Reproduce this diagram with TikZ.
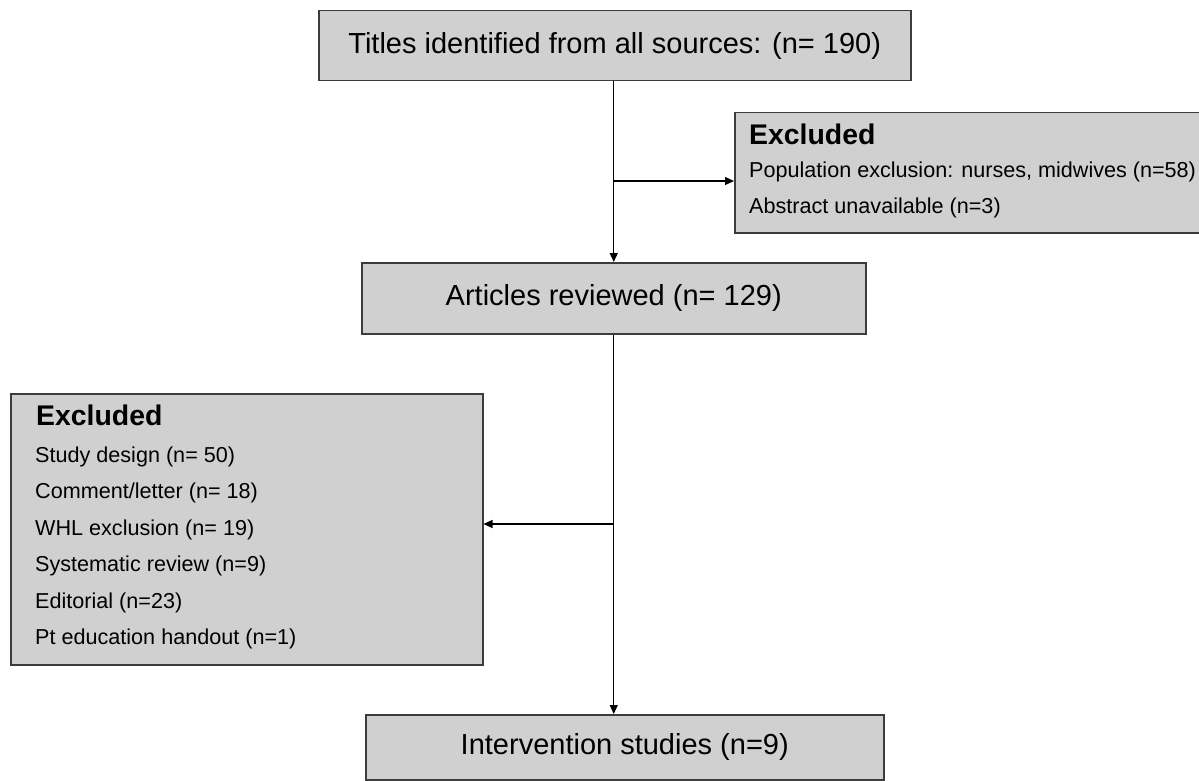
\documentclass[tikz,border=0pt]{standalone}
\usepackage{fontspec}
\setmainfont{Liberation Sans}
\usetikzlibrary{arrows.meta}
\definecolor{boxfill}{RGB}{208,208,208}
\definecolor{boxline}{RGB}{60,60,60}
\begin{document}
\begin{tikzpicture}[x=1pt,y=-1pt,
  box/.style={draw=boxline, line width=1.5pt, fill=boxfill, inner sep=0pt, anchor=north west},
  big/.style={font=\fontsize{29}{34}\selectfont},
  head/.style={font=\fontsize{28.4}{34}\selectfont\bfseries, anchor=base west, inner sep=0pt},
  item/.style={font=\fontsize{21.6}{26}\selectfont, anchor=base west, inner sep=0pt},
  arr/.style={line width=1.2pt, -{Triangle[length=9pt,width=8pt]}}]
\useasboundingbox[fill=white] (0,0) rectangle (1199,781);

% main boxes
\node[box, big, minimum width=592pt, minimum height=70pt] (top) at (318,10) {Titles identified from all sources: (n= 190)};
\node[box, big, minimum width=504pt, minimum height=71pt] (art) at (361,262) {Articles reviewed (n= 129)};
\node[box, big, minimum width=518pt, minimum height=65pt] (bot) at (365,714) {Intervention studies (n=9)};

% right excluded box
\node[box, minimum width=470pt, minimum height=120pt] (exR) at (734,112) {};
\node[head] (exRh) at (749,144) {Excluded};
\node[item] (exR1) at (749,177) {Population exclusion: nurses, midwives (n=58)};
\node[item] (exR2) at (749,213) {Abstract unavailable (n=3)};

% left excluded box
\node[box, minimum width=472pt, minimum height=271pt] (exL) at (10,393) {};
\node[head] (exLh) at (36,425) {Excluded};
\node[item] (exL1) at (35,462) {Study design (n= 50)};
\node[item] (exL2) at (35,498) {Comment/letter (n= 18)};
\node[item] (exL3) at (35,535) {WHL exclusion (n= 19)};
\node[item] (exL4) at (35,571) {Systematic review (n=9)};
\node[item] (exL5) at (35,608) {Editorial (n=23)};
\node[item] (exL6) at (35,644) {Pt education handout (n=1)};

% connectors
\coordinate (b1) at (613,181);
\coordinate (b2) at (613,524);
\draw[arr] (art.north |- top.south) -- (art.north);
\draw[arr] (b1) -- (exR.west |- b1);
\draw[arr] (art.south) -- (bot.north -| art.south);
\draw[arr] (b2) -- (exL.east |- b2);
\end{tikzpicture}
\end{document}
